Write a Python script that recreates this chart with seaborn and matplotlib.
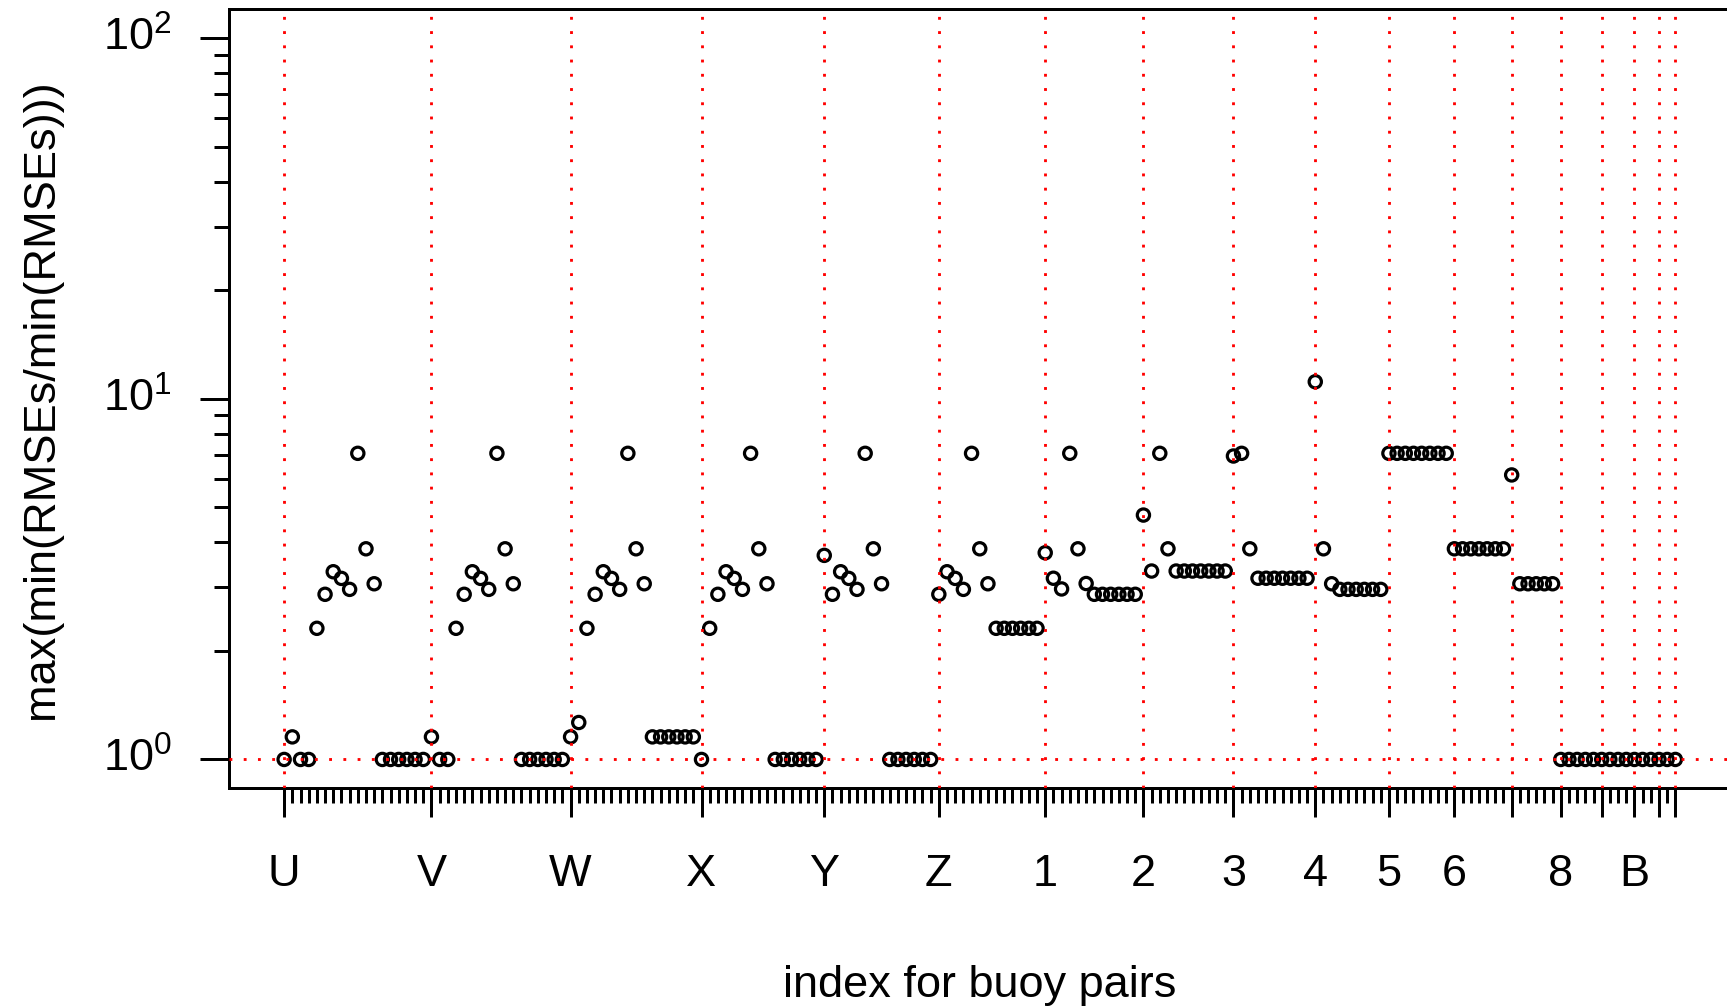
import numpy as np
import pandas as pd
import matplotlib
matplotlib.use("Agg")
import matplotlib.pyplot as plt
from matplotlib import ticker
import seaborn as sns

# Buoy group names (blank where the label is not printed on the axis)
group_labels = ["U", "V", "W", "X", "Y", "Z", "1", "2", "3", "4",
                "5", "6", "", "8", "", "B", "", ""]

# max(min(RMSEs/min(RMSEs))) for every buoy pair, grouped by first buoy
ratio_U = [1.0, 1.155, 1.0, 1.0, 2.31, 2.87, 3.315, 3.177, 2.962, 7.06, 3.838, 3.07,
           1.0, 1.0, 1.0, 1.0, 1.0, 1.0]
ratio_V = [1.155, 1.0, 1.0, 2.31, 2.87, 3.315, 3.177, 2.962, 7.06, 3.838, 3.07,
           1.0, 1.0, 1.0, 1.0, 1.0, 1.0]
ratio_W = [1.155, 1.266, 2.31, 2.87, 3.315, 3.177, 2.962, 7.06, 3.838, 3.07,
           1.155, 1.155, 1.155, 1.155, 1.155, 1.155]
ratio_X = [1.0, 2.31, 2.87, 3.315, 3.177, 2.962, 7.06, 3.838, 3.07,
           1.0, 1.0, 1.0, 1.0, 1.0, 1.0]
ratio_Y = [3.68, 2.87, 3.315, 3.177, 2.962, 7.06, 3.838, 3.07,
           1.0, 1.0, 1.0, 1.0, 1.0, 1.0]
ratio_Z = [2.87, 3.315, 3.177, 2.962, 7.06, 3.838, 3.07,
           2.31, 2.31, 2.31, 2.31, 2.31, 2.31]
ratio_1 = [3.742, 3.18, 2.97, 7.06, 3.838, 3.075,
           2.87, 2.87, 2.87, 2.87, 2.87, 2.87]
ratio_2 = [4.76, 3.33, 7.06, 3.838,
           3.33, 3.33, 3.33, 3.33, 3.33, 3.33, 3.33]
ratio_3 = [6.94, 7.06, 3.838,
           3.18, 3.18, 3.18, 3.18, 3.18, 3.18, 3.18]
ratio_4 = [11.15, 3.838, 3.07,
           2.962, 2.962, 2.962, 2.962, 2.962, 2.962]
ratio_5 = [7.06, 7.06, 7.06, 7.06, 7.06, 7.06, 7.06, 7.06]
ratio_6 = [3.838, 3.838, 3.838, 3.838, 3.838, 3.838, 3.838]
ratio_7 = [6.15, 3.07, 3.07, 3.07, 3.07, 3.07]
ratio_8 = [1.0, 1.0, 1.0, 1.0, 1.0]
ratio_9 = [1.0, 1.0, 1.0, 1.0]
ratio_B = [1.0, 1.0, 1.0]
ratio_C = [1.0, 1.0]
ratio_D = [1.0]

groups = [ratio_U, ratio_V, ratio_W, ratio_X, ratio_Y, ratio_Z, ratio_1, ratio_2,
          ratio_3, ratio_4, ratio_5, ratio_6, ratio_7, ratio_8, ratio_9, ratio_B,
          ratio_C, ratio_D]

ratio = np.concatenate([np.asarray(g, dtype=float) for g in groups])
pair_index = np.arange(1, len(ratio) + 1)
sizes = np.array([len(g) for g in groups])
group_starts = np.concatenate([[1], 1 + np.cumsum(sizes)[:-1]])

df = pd.DataFrame({"pair": pair_index, "ratio": ratio})

sns.set_style("ticks", {"axes.edgecolor": "black", "xtick.color": "black",
                        "ytick.color": "black", "text.color": "black"})
plt.rcParams["font.family"] = ["Liberation Sans", "DejaVu Sans"]
plt.rcParams["mathtext.fontset"] = "custom"
plt.rcParams["mathtext.rm"] = "Liberation Sans"
plt.rcParams["mathtext.it"] = "Liberation Sans:italic"
plt.rcParams["mathtext.bf"] = "Liberation Sans:bold"

W, H = 1727, 1008
fig = plt.figure(figsize=(W / 100, H / 100), dpi=100)
left_px, right_px, top_px, bottom_px = 228.5, 1731.0, 9.3, 788.3
ax = fig.add_axes([left_px / W, 1 - bottom_px / H,
                   (right_px - left_px) / W, (bottom_px - top_px) / H])

sns.scatterplot(data=df, x="pair", y="ratio", ax=ax, marker="o", s=78,
                color="black", linewidth=2.3, legend=False, zorder=2)
pts = ax.collections[0]
pts.set_facecolor("none")
pts.set_edgecolor("black")
pts.set_linewidth(2.3)

ax.set_yscale("log")
n = len(ratio)
pad = 0.04 * (n - 1)
ax.set_xlim(1 - pad, n + pad)
ax.set_ylim(10 ** -0.08, 10 ** 2.08)

# reference lines: group boundaries and ratio = 1
dots = dict(color="red", linewidth=2.05, linestyle=(0, (1, 4.0)),
            dash_capstyle="butt", zorder=3)
for s in group_starts:
    ax.axvline(s, **dots)
ax.axhline(1.0, **dots)

# axes styling
for sp in ax.spines.values():
    sp.set_linewidth(2.16)
    sp.set_color("black")

ax.xaxis.set_major_locator(ticker.FixedLocator(group_starts))
ax.xaxis.set_major_formatter(ticker.FixedFormatter(group_labels))
ax.xaxis.set_minor_locator(ticker.FixedLocator(pair_index))
ax.xaxis.set_minor_formatter(ticker.NullFormatter())

ax.yaxis.set_major_locator(ticker.FixedLocator([1, 10, 100]))
ax.yaxis.set_major_formatter(ticker.FixedFormatter(
    [r"$\mathregular{10^{0}}$", r"$\mathregular{10^{1}}$", r"$\mathregular{10^{2}}$"]))
minor_y = [m * d for d in (1, 10) for m in range(2, 10)]
ax.yaxis.set_minor_locator(ticker.FixedLocator(minor_y))
ax.yaxis.set_minor_formatter(ticker.NullFormatter())

ax.tick_params(which="major", length=20.9, width=2.16, direction="out",
               labelsize=32.5, color="black")
ax.tick_params(which="minor", length=10.6, width=2.16, direction="out",
               color="black")
ax.tick_params(axis="x", which="major", pad=26.5)
ax.tick_params(axis="y", which="major", pad=20.0)
for lab in ax.get_yticklabels():
    lab.set_verticalalignment("center")

ax.set_xlabel("")
ax.set_ylabel("")
fig.text(979.8 / W, 1 - 996.7 / H, "index for buoy pairs", ha="center",
         va="baseline", fontsize=32.5)
fig.text(42 / W, 1 - 399 / H, "max(min(RMSEs/min(RMSEs)))", ha="center",
         va="center", rotation=90, fontsize=32.5)

fig.savefig("out.png", dpi=100)
